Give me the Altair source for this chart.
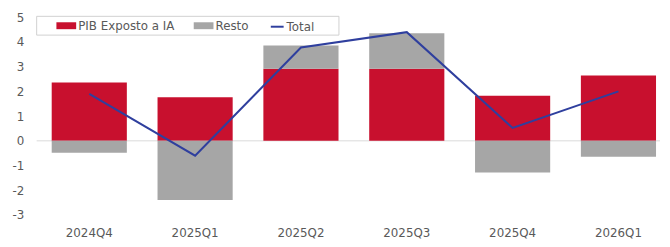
import altair as alt
import pandas as pd

categories = ["2024Q4", "2025Q1", "2025Q2", "2025Q3", "2025Q4", "2026Q1"]
pib_ia = [2.36, 1.76, 2.92, 2.92, 1.82, 2.64]
resto = [-0.48, -2.40, 0.94, 1.44, -1.28, -0.64]
total = [1.90, -0.60, 3.78, 4.40, 0.52, 2.00]
series_names = ["PIB Exposto a IA", "Resto"]
line_name = "Total"
y_ticks = [-3, -2, -1, 0, 1, 2, 3, 4, 5]

RED = "#C8102E"
GREY = "#A6A6A6"
BLUE = "#2F3F9E"
TXT = "#595959"
FONT = "DejaVu Sans"
FS = 12

rows = []
for i, c in enumerate(categories):
    rows.append({"cat": c, "series": series_names[0], "value": pib_ia[i], "ord": 0})
    rows.append({"cat": c, "series": series_names[1], "value": resto[i], "ord": 1})
bars_df = pd.DataFrame(rows)
line_df = pd.DataFrame({"cat": categories, "value": total, "s": [line_name] * len(categories)})

x_scale = alt.Scale(paddingInner=0.29, paddingOuter=0.09, align=0.79)
x_axis = alt.Axis(labelAngle=0, ticks=False, domain=False, grid=False, labelPadding=13,
                  labelFont=FONT, labelFontSize=FS, labelColor=TXT)
y_scale = alt.Scale(domain=[-3, 5], nice=False, zero=False)
y_axis = alt.Axis(values=y_ticks, ticks=False, domain=False, grid=False, labelPadding=13,
                  labelOverlap=False, labelExpr="'' + datum.value",
                  labelFont=FONT, labelFontSize=FS, labelColor=TXT)


def X():
    return alt.X("cat:N", sort=categories, title=None, scale=x_scale, axis=x_axis)


def Y(field, **kw):
    return alt.Y(field, scale=y_scale, axis=y_axis, title=None, **kw)


zero = alt.Chart(alt.Data(values=[{"z": 0}])).mark_rule(color="#D9D9D9", strokeWidth=1).encode(
    y=Y("z:Q")
)

bars = alt.Chart(bars_df).mark_bar().encode(
    x=X(),
    y=Y("value:Q", stack="zero"),
    fill=alt.Fill(
        "series:N",
        scale=alt.Scale(domain=series_names, range=[RED, GREY]),
        legend=alt.Legend(
            orient="none", legendX=20, legendY=-1.5, direction="horizontal", title=None,
            symbolType="M-1,-0.35L1,-0.35L1,0.35L-1,0.35Z", symbolSize=400,
            symbolStrokeWidth=0, labelFont=FONT, labelFontSize=FS, labelColor=TXT,
            labelOffset=2, columnPadding=19, padding=0,
        ),
    ),
    order=alt.Order("ord:Q"),
)

line = alt.Chart(line_df).mark_line(strokeWidth=2).encode(
    x=X(),
    y=Y("value:Q"),
    stroke=alt.Stroke(
        "s:N",
        scale=alt.Scale(domain=[line_name], range=[BLUE]),
        legend=alt.Legend(
            orient="none", legendX=236, legendY=2, direction="horizontal", title=None,
            symbolType="stroke", symbolSize=169, symbolStrokeWidth=2,
            labelFont=FONT, labelFontSize=FS, labelColor=TXT, labelOffset=2, padding=0,
        ),
    ),
)

frame = alt.Chart(alt.Data(values=[{"f": 1}])).mark_rect(
    fill="white", stroke="#D0D0D0", strokeWidth=1
).encode(x=alt.value(0), x2=alt.value(306), y=alt.value(-1), y2=alt.value(18))

chart = (
    alt.layer(zero, bars, line, frame)
    .resolve_scale(fill="independent", stroke="independent")
    .properties(
        width=631, height=200,
        background="white",
        autosize=alt.AutoSizeParams(type="none"),
        padding={"left": 29, "top": 8, "right": 2, "bottom": 28},
    )
    .configure_view(strokeWidth=0)
    .configure_axis(ticks=False, domain=False, grid=False)
)

chart.save("out.html", embed_options={"renderer": "svg", "actions": False})
